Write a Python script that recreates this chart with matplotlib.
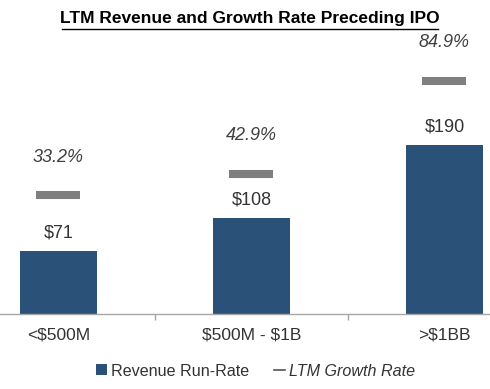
import matplotlib
matplotlib.use("Agg")
import matplotlib.pyplot as plt
from matplotlib.patches import Patch
from matplotlib.lines import Line2D

categories = ["<$500M", "$500M - $1B", ">$1BB"]
revenue = [71, 108, 190]
growth = [33.2, 42.9, 84.9]
revenue_labels = ["$71", "$108", "$190"]
growth_labels = ["33.2%", "42.9%", "84.9%"]

BLUE = "#2A5279"
GRAY = "#7F7F7F"
TXT = "#333333"
plt.rcParams['font.family'] = ['Liberation Sans', 'DejaVu Sans']

W, H = 490, 389
fig = plt.figure(figsize=(W/100, H/100), dpi=100)
ax = fig.add_axes([0, (H-314)/H, 1, 314/H])
x = list(range(len(categories)))
ax.bar(x, revenue, width=0.4, color=BLUE, zorder=2)
ax.set_xlim(-0.303, 2.236)
ax.set_ylim(0, 314/0.889)
for s in ["top", "left", "right"]:
    ax.spines[s].set_visible(False)
ax.spines["bottom"].set_color("#A6A6A6")
ax.spines["bottom"].set_linewidth(1.0)
ax.set_yticks([])
ax.set_xticks([0.5, 1.5])
ax.set_xticklabels([])
ax.tick_params(axis='x', length=4, color="#A6A6A6", width=1)
for xi, c in zip(x, categories):
    ax.annotate(c, (xi, 0), xytext=(0, -21), textcoords='offset pixels',
                ha='center', va='center', fontsize=12.5, color=TXT,
                annotation_clip=False, parse_math=False)
for xi, v, lab in zip(x, revenue, revenue_labels):
    ax.annotate(lab, (xi, v), xytext=(0, 18), textcoords='offset pixels',
                ha='center', va='center', fontsize=13, color=TXT,
                parse_math=False)

ax2 = ax.twinx()
ax2.set_ylim(-20.5, -20.5 + 314/2.215)
ax2.axis('off')
ax2.plot(x, growth, linestyle='none', marker='_', markersize=31,
         markeredgewidth=5.8, color=GRAY)
for xi, g, lab in zip(x, growth, growth_labels):
    ax2.annotate(lab, (xi, g), xytext=(0, 38), textcoords='offset pixels',
                 ha='center', va='center', fontsize=13, color="#404040",
                 style='italic')

fig.text(250/W, 1-19/H, "LTM Revenue and Growth Rate Preceding IPO",
         ha='center', va='center', fontsize=12.5, fontweight='bold',
         color='black')
fig.add_artist(Line2D([62/W, 438/W], [1-28.5/H, 1-28.5/H], color='black', lw=1.0))

handles = [Patch(facecolor=BLUE, edgecolor='none'),
           Line2D([], [], color='#555555', lw=1.2)]
leg = fig.legend(handles, ["Revenue Run-Rate", "LTM Growth Rate"],
                 loc='center', bbox_to_anchor=(255.4/W, 1-371/H), ncol=2,
                 frameon=False, fontsize=11.6, handlelength=0.68,
                 handleheight=0.68, handletextpad=0.25, columnspacing=1.55,
                 borderpad=0, borderaxespad=0)
for t in leg.get_texts():
    t.set_color(TXT)
leg.get_texts()[1].set_style('italic')

fig.savefig("out.png", dpi=100)
